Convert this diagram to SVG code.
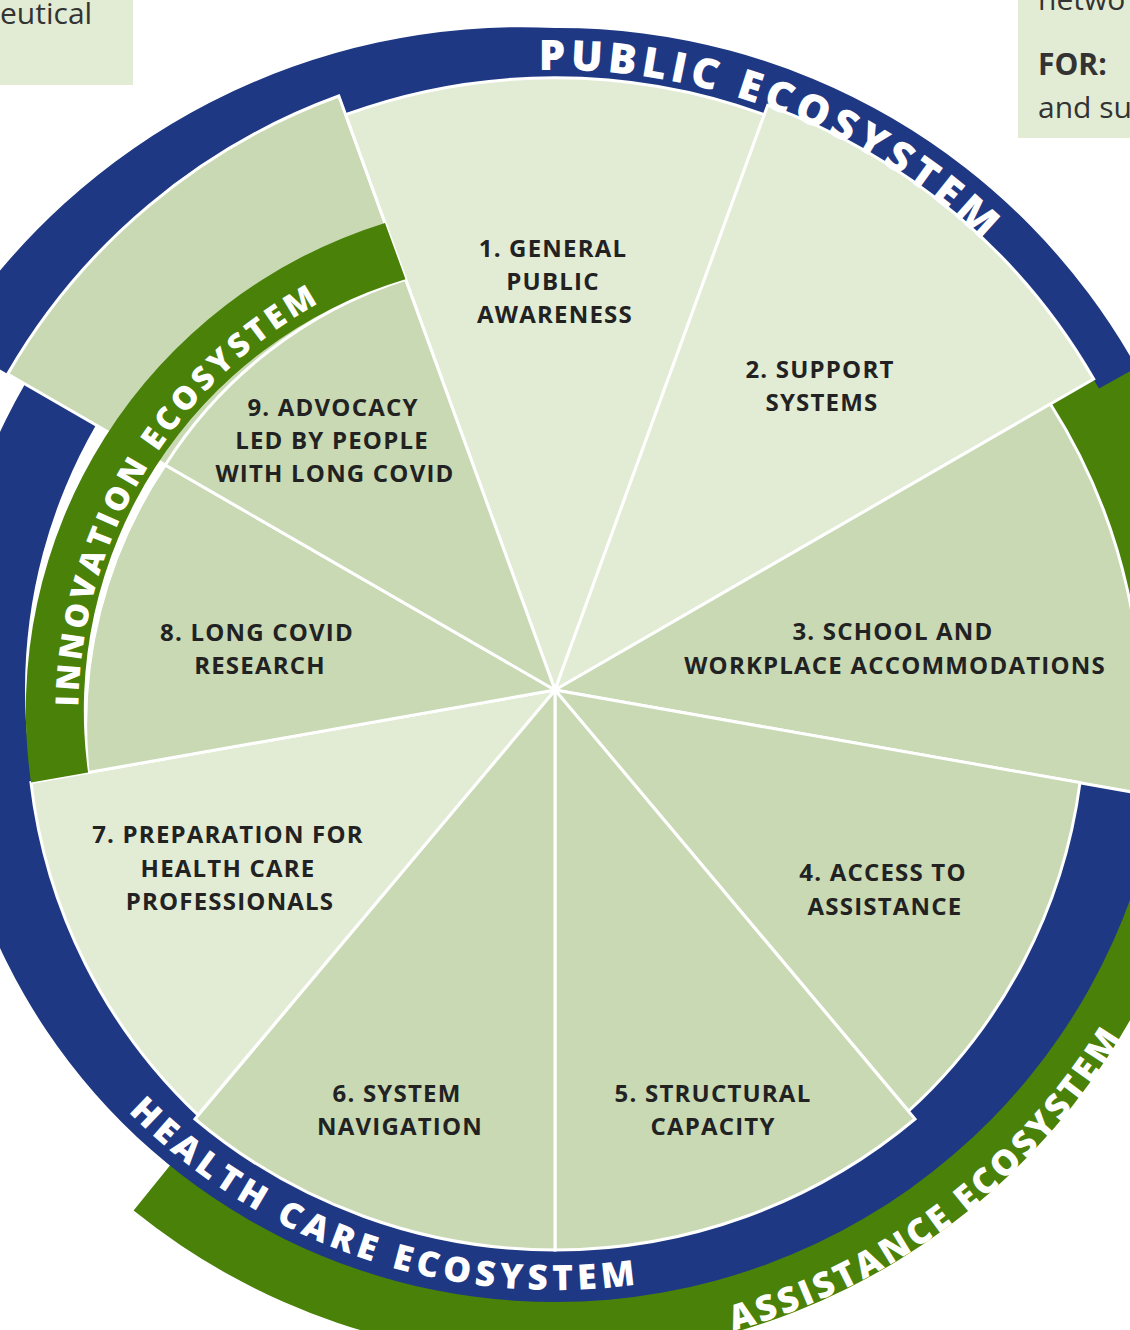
<svg xmlns="http://www.w3.org/2000/svg" width="1130" height="1330" viewBox="0 0 1130 1330">
<style>
.lt{fill:#e2ecd4;stroke:#fff;stroke-width:3}
.dk{fill:#c8d9b4;stroke:#fff;stroke-width:3}
.blue{fill:#1f3883}
.green{fill:#4a8109}
.lbl{font-family:"Open Sans","Noto Sans",sans-serif;font-weight:700;font-size:24px;fill:#222;text-anchor:middle;letter-spacing:1.2px}
.ring{font-family:"Open Sans","Noto Sans",sans-serif;font-weight:800;fill:#fff}
.box{font-family:"Open Sans","Noto Sans",sans-serif;font-size:30px;fill:#333}
</style>
<defs>
<path id="pPub" d="M538.8,70.2 A620,620 0 0 1 1137.8,478"/>
<path id="pInn" d="M78.4,706.6 A470,470 0 0 1 401,267"/>
<path id="pHea" d="M109,1091.6 A600,600 0 0 0 855,1209.6"/>
<path id="pAss" d="M670.5,1345 A665,665 0 0 0 1220,690"/>
</defs>
<rect x="0" y="0" width="1130" height="1330" fill="#fff"/>
<g id="box-left"><rect x="-5" y="-5" width="138" height="90" fill="#e2ecd4"/><text class="box" x="0" y="24">eutical</text></g>
<g id="box-right"><rect x="1018" y="-5" width="120" height="143" fill="#e2ecd4"/><text class="box" x="1038" y="10">netwo</text><text class="box" x="1038" y="75" font-weight="700">FOR:</text><text class="box" x="1038" y="118">and su</text></g>
<g id="ring-assistance"><path class="green" d="M1114.7,340 A665,665 0 0 1 133.6,1210.6 L183.7,1148.4 A575,575 0 0 0 1029.9,393 Z"/></g>
<g id="ring-health"><path class="blue" d="M1159.7,785.5 A612,612 0 0 1 555,1302 A612,612 0 0 1 25,384 L96,425 A530,530 0 0 0 555,1220 A530,530 0 0 0 1078.5,773 Z"/></g>
<g id="ring-public"><path class="blue" d="M-51,340 A680,680 0 0 1 555,28 A662,662 0 0 1 1136.6,367.6 L1099,388.5 A605,605 0 0 0 555,85 A620,620 0 0 0 7.7,374 Z"/></g>
<g id="wedges">
<g id="w9big"><path class="dk" d="M555,690 L7.7,374 A632,632 0 0 1 338.8,96 Z"/></g>
<g id="w1"><path class="lt" d="M555,690 L345.7,114.7 A612,612 0 0 1 764.3,114.7 Z"/></g>
<g id="w2"><path class="lt" d="M555,690 L767.7,105.3 A622,622 0 0 1 1093.7,379 Z"/></g>
<g id="w3"><path class="dk" d="M555,690 L1050.4,404 A580,580 0 0 1 1136,792.7 Z"/></g>
<g id="w4"><path class="dk" d="M555,690 L1080,782.6 A540,540 0 0 1 908.6,1111 Z"/></g>
<g id="w5"><path class="dk" d="M555,690 L915,1119 A560,560 0 0 1 555,1250 Z"/></g>
<g id="w6"><path class="dk" d="M555,690 L555,1250 A560,560 0 0 1 195,1119 Z"/></g>
<g id="w7"><path class="lt" d="M555,690 L198,1115 A545,545 0 0 1 31,782.6 Z"/></g>
<g id="w8"><path class="dk" d="M555,690 L88.1,772.5 A465,465 0 0 1 165.3,465 Z"/></g>
<g id="w9"><path class="dk" d="M555,690 L165.3,465 A445,445 0 0 1 405.5,279.2 Z"/></g>
</g>
<g id="ring-innovation"><path class="green" d="M31,782.6 A510,510 0 0 1 385,223 L405.5,279.2 A450,450 0 0 0 88.1,772.5 Z"/></g>
<g id="ring-labels">
<text class="ring" font-size="42" letter-spacing="5"><textPath href="#pPub">PUBLIC ECOSYSTEM</textPath></text>
<text class="ring" font-size="32" letter-spacing="4"><textPath href="#pInn">INNOVATION ECOSYSTEM</textPath></text>
<text class="ring" font-size="35" letter-spacing="5"><textPath href="#pHea" startOffset="28">HEALTH CARE ECOSYSTEM</textPath></text>
<text class="ring" font-size="35" letter-spacing="3.5"><textPath href="#pAss" startOffset="64">ASSISTANCE ECOSYSTEM</textPath></text>
</g>
<g id="labels">
<text class="lbl" x="553" y="257">1. GENERAL<tspan x="553" y="290">PUBLIC</tspan><tspan x="555" y="323">AWARENESS</tspan></text>
<text class="lbl" x="820" y="378">2. SUPPORT<tspan x="822" y="411">SYSTEMS</tspan></text>
<text class="lbl" x="893" y="640">3. SCHOOL AND<tspan x="895" y="674">WORKPLACE ACCOMMODATIONS</tspan></text>
<text class="lbl" x="883" y="881">4. ACCESS TO<tspan x="885" y="915">ASSISTANCE</tspan></text>
<text class="lbl" x="713" y="1102">5. STRUCTURAL<tspan x="713" y="1135">CAPACITY</tspan></text>
<text class="lbl" x="397" y="1102">6. SYSTEM<tspan x="400" y="1135">NAVIGATION</tspan></text>
<text class="lbl" x="228" y="843">7. PREPARATION FOR<tspan x="228" y="877">HEALTH CARE</tspan><tspan x="230" y="910">PROFESSIONALS</tspan></text>
<text class="lbl" x="257" y="641">8. LONG COVID<tspan x="260" y="674">RESEARCH</tspan></text>
<text class="lbl" x="333" y="416">9. ADVOCACY<tspan x="332" y="449">LED BY PEOPLE</tspan><tspan x="335" y="482">WITH LONG COVID</tspan></text>
</g>
</svg>
